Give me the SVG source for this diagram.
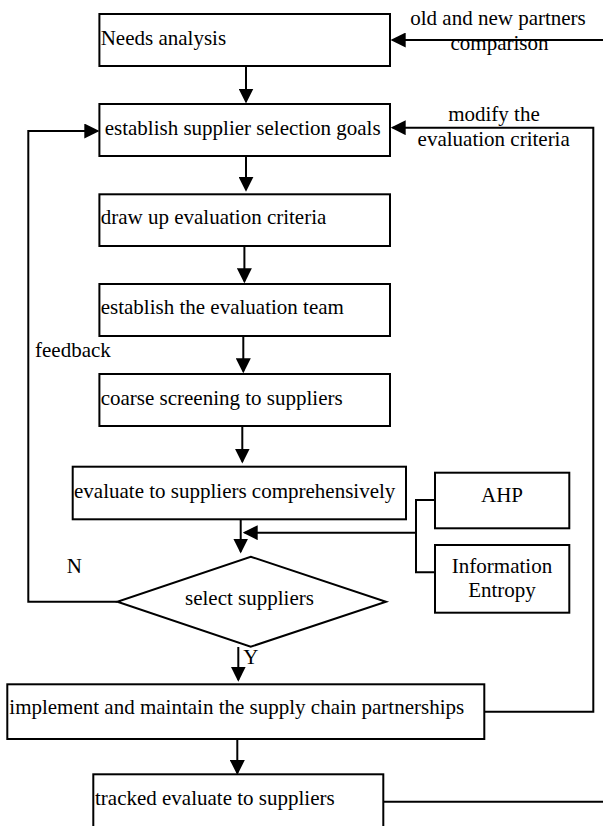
<svg xmlns="http://www.w3.org/2000/svg" width="603" height="826" viewBox="0 0 603 826">
<style>
  .box { fill: #ffffff; stroke: #000000; stroke-width: 2; }
  .line { fill: none; stroke: #000000; stroke-width: 2; }
  .arrow { fill: none; stroke: #000000; stroke-width: 2; marker-end: url(#ah); }
  text { font-family: "Liberation Serif", "Times New Roman", serif; font-size: 21px; fill: #000000; }
  .mid { text-anchor: middle; }
</style>
<defs>
  <marker id="ah" markerUnits="userSpaceOnUse" markerWidth="15" markerHeight="15" refX="13" refY="7.5" orient="auto">
    <path d="M0,0 L15,7.5 L0,15 Z" fill="#000000"/>
  </marker>
</defs>
<rect width="603" height="826" fill="#ffffff"/>

<g id="connectors">
  <line class="arrow" x1="603" y1="40" x2="392.7" y2="40"/>
  <line class="arrow" x1="246" y1="66" x2="246" y2="101.5"/>
  <line class="arrow" x1="246" y1="156" x2="246" y2="189.7"/>
  <line class="arrow" x1="244.4" y1="246" x2="244.4" y2="281.3"/>
  <line class="arrow" x1="243.3" y1="336" x2="243.3" y2="371.3"/>
  <line class="arrow" x1="242.3" y1="426" x2="242.3" y2="461.5"/>
  <line class="arrow" x1="240.7" y1="519.3" x2="240.7" y2="551.5"/>
  <path class="line" d="M435,500 H416 V572.3 H435"/>
  <line class="arrow" x1="416" y1="532.7" x2="244.7" y2="532.7"/>
  <path class="arrow" d="M117.3,601.7 H28.3 V131 H97.3"/>
  <line class="arrow" x1="238.3" y1="647" x2="238.3" y2="679.7"/>
  <line class="arrow" x1="237.3" y1="739" x2="237.3" y2="773"/>
  <path class="arrow" d="M484.3,711.7 H593.3 V127.7 H392.7"/>
  <line class="line" x1="383.3" y1="801.7" x2="603" y2="801.7"/>
</g>

<g id="lbl-old-new">
  <text class="mid" x="498" y="25">old and new partners</text>
  <text class="mid" x="499.5" y="50">comparison</text>
</g>
<g id="lbl-modify">
  <text class="mid" x="494" y="120.7">modify the</text>
  <text class="mid" x="493.7" y="145.7">evaluation criteria</text>
</g>
<g id="lbl-feedback"><text x="35" y="357.3">feedback</text></g>
<g id="lbl-N"><text x="66.7" y="573.3">N</text></g>
<g id="lbl-Y"><text x="243.3" y="664">Y</text></g>

<g id="n-needs">
  <rect class="box" x="99.4" y="14" width="290.6" height="52"/>
  <text x="100.7" y="45">Needs analysis</text>
</g>
<g id="n-goals">
  <rect class="box" x="99.4" y="104" width="290.6" height="52"/>
  <text x="104.7" y="135">establish supplier selection goals</text>
</g>
<g id="n-criteria">
  <rect class="box" x="99.4" y="194.3" width="290.6" height="51.7"/>
  <text x="100.7" y="224">draw up evaluation criteria</text>
</g>
<g id="n-team">
  <rect class="box" x="99.4" y="284" width="290.6" height="52"/>
  <text x="100.7" y="314">establish the evaluation team</text>
</g>
<g id="n-coarse">
  <rect class="box" x="99.4" y="374" width="290.6" height="52"/>
  <text x="100.7" y="405">coarse screening to suppliers</text>
</g>
<g id="n-evaluate">
  <rect class="box" x="72.7" y="466.7" width="333.3" height="52.6"/>
  <text x="74" y="498.3">evaluate to suppliers comprehensively</text>
</g>
<g id="n-ahp">
  <rect class="box" x="435" y="472.7" width="134.3" height="55.6"/>
  <text class="mid" x="502" y="501.7">AHP</text>
</g>
<g id="n-entropy">
  <rect class="box" x="435" y="545" width="134.3" height="67.7"/>
  <text class="mid" x="502" y="573.3">Information</text>
  <text class="mid" x="502" y="596.7">Entropy</text>
</g>
<g id="n-select">
  <polygon class="box" points="250.7,556.7 386,601.7 250.7,646.7 117.3,601.7"/>
  <text x="185" y="605">select suppliers</text>
</g>
<g id="n-implement">
  <rect class="box" x="7.3" y="684.3" width="477" height="54.7"/>
  <text x="9.3" y="714.3">implement and maintain the supply chain partnerships</text>
</g>
<g id="n-tracked">
  <rect class="box" x="93.3" y="774.3" width="290" height="60"/>
  <text x="95" y="805">tracked evaluate to suppliers</text>
</g>
</svg>
